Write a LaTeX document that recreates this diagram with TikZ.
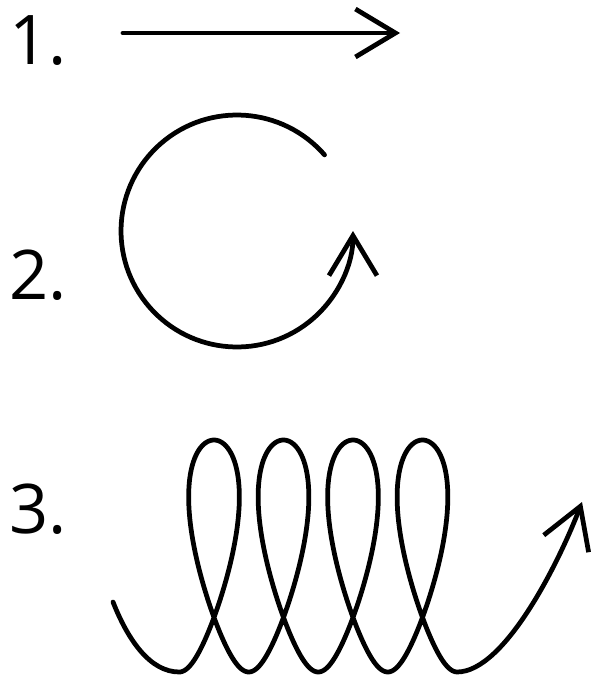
\documentclass[tikz,border=0pt]{standalone}
\usepackage{fontspec}
\setmainfont{Open Sans}
\usepackage{tikz}
\usetikzlibrary{arrows.meta, positioning, calc}
\tikzset{
  numlabel/.style={font=\fontsize{39}{40}\selectfont, anchor=base west,
                   inner sep=0pt, text=black},
  barb/.style={-{Straight Barb[length=0.8cm, width=0.96cm]},
               draw=black, line width=2.7pt, line cap=round, line join=round},
}

\begin{document}
\begin{tikzpicture}[x=0.02cm, y=0.02cm]
  \useasboundingbox (0,0) rectangle (592,-679);

  % labels
  \node[numlabel] (n1) at (9,-65)  {1.};
  \node[numlabel] (n2) at (9,-299) {2.};
  \node[numlabel] (n3) at (9,-533) {3.};

  % 1. straight
  \coordinate (a1s) at (123,-33);
  \coordinate (a1e) at (400,-33);
  \draw[barb] (a1s) -- (a1e);

  % 2. circle
  \coordinate (cc) at (237,-231);
  \draw[barb] (cc) ++(41:2.32cm) arc[start angle=41, end angle=360, radius=2.32cm];

  % 3. coil
  \coordinate (c3s) at (113,-602);
  \coordinate (c3e) at (582,-502);
  \draw[barb] (c3s) .. controls (128,-640) and (150,-672) .. (179.3,-672)
    -- plot[domain=-pi:7*pi, samples=500, variable=\t]
         ({214 + 11.06*\t - 35.42*sin(\t r) - 7.23*sin(2*\t r)},
          {-(556 - 116*cos(\t r))})
    .. controls (505,-672) and (560,-560) .. (c3e);
\end{tikzpicture}
\end{document}
